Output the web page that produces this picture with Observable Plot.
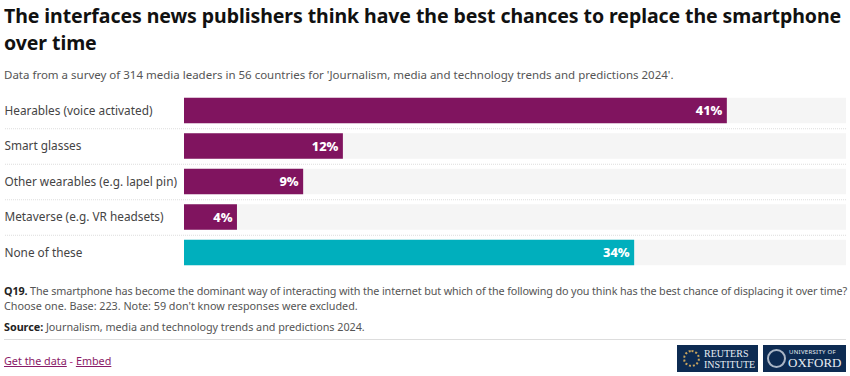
<!DOCTYPE html>
<html>
<head>
<meta charset="utf-8">
<script src="https://cdn.jsdelivr.net/npm/d3@7"></script>
<script src="https://cdn.jsdelivr.net/npm/@observablehq/plot@0.6"></script>
<style>
html,body{margin:0;padding:0;background:#fff;width:850px;height:376px;overflow:hidden;font-family:"Noto Sans",sans-serif;}
.abs{position:absolute;white-space:nowrap;}
#title{left:4px;top:2px;font-size:19.5px;line-height:27px;font-weight:700;color:#111;letter-spacing:-0.07px;}
#sub{left:4px;top:67px;font-size:11.5px;line-height:16px;color:#555;}
#chart{left:0;top:90px;}
#note{left:4px;top:283px;font-size:10.8px;line-height:15px;color:#555;}
#note .l1{letter-spacing:-0.125px;}
#note .l2{letter-spacing:-0.02px;}
#src{left:4px;top:319px;font-size:10.8px;line-height:15px;color:#555;letter-spacing:-0.03px;}
b{color:#222;}
#hr{left:4px;top:339px;width:842px;height:1px;background:#ddd;}
#links{left:4px;top:353px;font-size:10.8px;line-height:16px;color:#b0307f;}
#links a{color:#8a1a68;text-decoration:underline;}
.logo{top:345px;height:27px;background:#0d2b52;color:#e8edf3;font-family:"Liberation Serif",serif;}
.logo span{position:absolute;white-space:nowrap;}
.crest{position:absolute;border-radius:50%;}
</style>
</head>
<body>
<div class="abs" id="title">The interfaces news publishers think have the best chances to replace the smartphone<br>over time</div>
<div class="abs" id="sub">Data from a survey of 314 media leaders in 56 countries for 'Journalism, media and technology trends and predictions 2024'.</div>
<div class="abs" id="chart"></div>
<div class="abs" id="note"><span class="l1"><b>Q19.</b> The smartphone has become the dominant way of interacting with the internet but which of the following do you think has the best chance of displacing it over time?</span><br><span class="l2">Choose one. Base: 223. Note: 59 don't know responses were excluded.</span></div>
<div class="abs" id="src"><b>Source:</b> Journalism, media and technology trends and predictions 2024.</div>
<div class="abs" id="hr"></div>
<div class="abs" id="links"><a>Get the data</a> - <a>Embed</a></div>
<div class="abs logo" style="left:677px;width:81px;">
  <div class="crest" style="left:6px;top:5px;width:13px;height:13px;border:2px dotted #c9a45c;"></div>
  <span style="left:27px;top:3px;font-size:10px;line-height:11px;">REUTERS</span>
  <span style="left:27px;top:14px;font-size:10px;line-height:11px;">INSTITUTE</span>
</div>
<div class="abs logo" style="left:763px;width:83px;">
  <div class="crest" style="left:4px;top:4px;width:15px;height:15px;border:2px solid #aab6c6;"></div>
  <span style="left:26px;top:3px;font-size:6px;line-height:8px;font-family:'Noto Sans';letter-spacing:.3px;">UNIVERSITY OF</span>
  <span style="left:25px;top:10px;font-size:13px;line-height:15px;">OXFORD</span>
</div>
<script>
const categories = ["Hearables (voice activated)", "Smart glasses", "Other wearables (e.g. lapel pin)", "Metaverse (e.g. VR headsets)", "None of these"];
const values = [41, 12, 9, 4, 34];
const barColors = ["#80145f", "#80145f", "#80145f", "#80145f", "#00afbd"];
const domainMax = 50;

const rows = categories.map((c, i) => ({c, v: values[i], color: barColors[i]}));

const plot = Plot.plot({
  width: 850,
  height: 186,
  marginLeft: 5,
  marginRight: 4,
  marginTop: 3,
  marginBottom: 6,
  style: {fontFamily: '"Noto Sans",sans-serif', background: "transparent"},
  x: {domain: [0, domainMax], range: [184, 846], axis: null},
  y: {domain: categories, range: [2.75, 180.25], padding: 0, round: false, label: null},
  marks: [
    Plot.ruleY(categories.slice(0, -1), {y: d => d, dy: 17.75, stroke: "#ddd", strokeDasharray: "1,1"}),
    Plot.barX(rows, {x1: 0, x2: domainMax, y: "c", fill: "#f5f5f5", insetTop: 5, insetBottom: 5}),
    Plot.barX(rows, {x1: 0, x2: "v", y: "c", fill: "color", insetTop: 5, insetBottom: 5}),
    Plot.text(rows, {x: "v", y: "c", text: d => d.v + "%", textAnchor: "end", dx: -5, fill: "#fff", fontWeight: 800, fontSize: 12.8}),
    Plot.axisY({anchor: "left", tickSize: 0, tickPadding: 0, dx: -1, textAnchor: "start", fontSize: 11.8, color: "#444", label: null})
  ]
});
document.getElementById("chart").appendChild(plot);
</script>
</body>
</html>
